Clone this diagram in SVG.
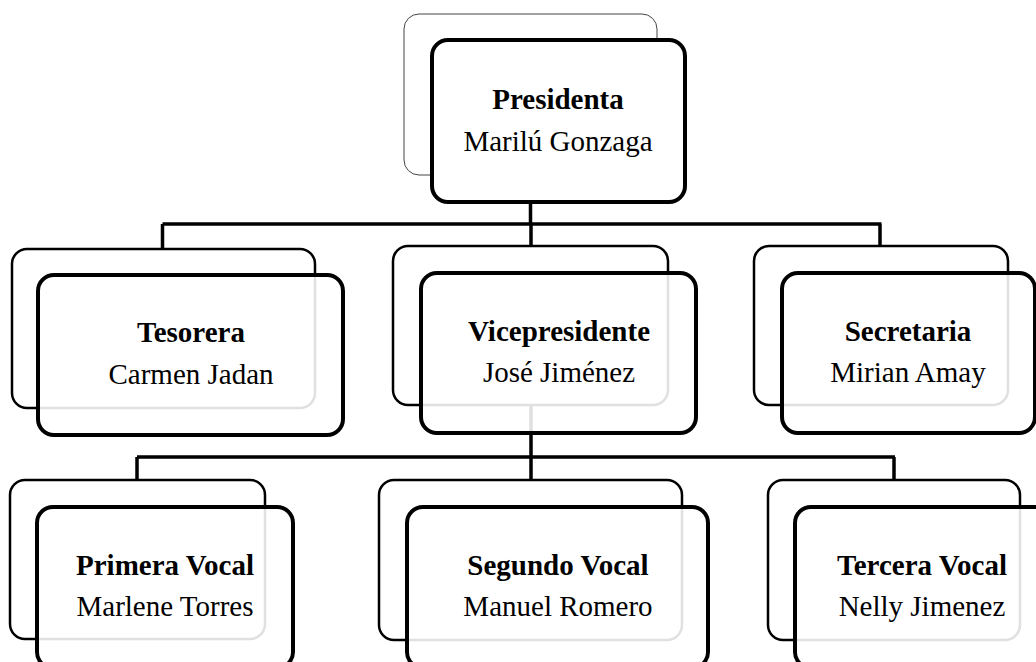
<svg xmlns="http://www.w3.org/2000/svg" width="1036" height="662" viewBox="0 0 1036 662">
<style>
.back{fill:#fff;stroke:#000;stroke-width:2.5}
.back0{fill:#fff;stroke:#444;stroke-width:1}
.front{fill:#fff;fill-opacity:0.88;stroke:#000;stroke-width:4}
.front0{fill:#fff;stroke:#000;stroke-width:4}
.conn{fill:none;stroke:#000;stroke-width:3.5}
.t{font-family:"Liberation Serif","Times New Roman",serif;font-size:29px;fill:#000;text-anchor:middle}
.b{font-weight:bold}
</style>
<rect width="1036" height="662" fill="#fff"/>
<g id="connectors">
<path class="conn" d="M530.5 200 V224 M162.5 224 H881.5 M162.5 224 V250 M531 224 V248 M880 224 V248"/>
<path class="conn" d="M531 404 V480 M137 457 H895 M137 457 V481 M894 457 V481"/>
</g>
<g id="presidenta">
<rect class="back0" x="404" y="14" width="253" height="161" rx="15"/>
<rect class="front0" x="432" y="40" width="253" height="162" rx="16"/>
<text class="t b" x="558" y="109">Presidenta</text>
<text class="t" x="558" y="151">Marilú Gonzaga</text>
</g>
<g id="tesorera">
<rect class="back" x="12" y="249" width="303" height="159" rx="15"/>
<rect class="front" x="38" y="275" width="305" height="160" rx="16"/>
<text class="t b" x="191" y="342">Tesorera</text>
<text class="t" x="191" y="384">Carmen Jadan</text>
</g>
<g id="vicepresidente">
<rect class="back" x="393" y="246" width="275" height="159" rx="15"/>
<rect class="front" x="421" y="273" width="275" height="160" rx="16"/>
<text class="t b" x="559" y="341">Vicepresidente</text>
<text class="t" x="559" y="382">José Jiménez</text>
</g>
<g id="secretaria">
<rect class="back" x="754" y="246" width="254" height="159" rx="15"/>
<rect class="front" x="782" y="273" width="253" height="160" rx="16"/>
<text class="t b" x="908" y="341">Secretaria</text>
<text class="t" x="908" y="382">Mirian Amay</text>
</g>
<g id="primera-vocal">
<rect class="back" x="10" y="480" width="255" height="159" rx="15"/>
<rect class="front" x="37" y="507" width="256" height="161" rx="16"/>
<text class="t b" x="165" y="575">Primera Vocal</text>
<text class="t" x="165" y="616">Marlene Torres</text>
</g>
<g id="segundo-vocal">
<rect class="back" x="379" y="480" width="303" height="160" rx="15"/>
<rect class="front" x="407" y="507" width="301" height="161" rx="16"/>
<text class="t b" x="558" y="575">Segundo Vocal</text>
<text class="t" x="558" y="616">Manuel Romero</text>
</g>
<g id="tercera-vocal">
<rect class="back" x="768" y="480" width="252" height="160" rx="15"/>
<rect class="front" x="795" y="507" width="256" height="161" rx="16"/>
<text class="t b" x="922" y="575">Tercera Vocal</text>
<text class="t" x="922" y="616">Nelly Jimenez</text>
</g>
</svg>
